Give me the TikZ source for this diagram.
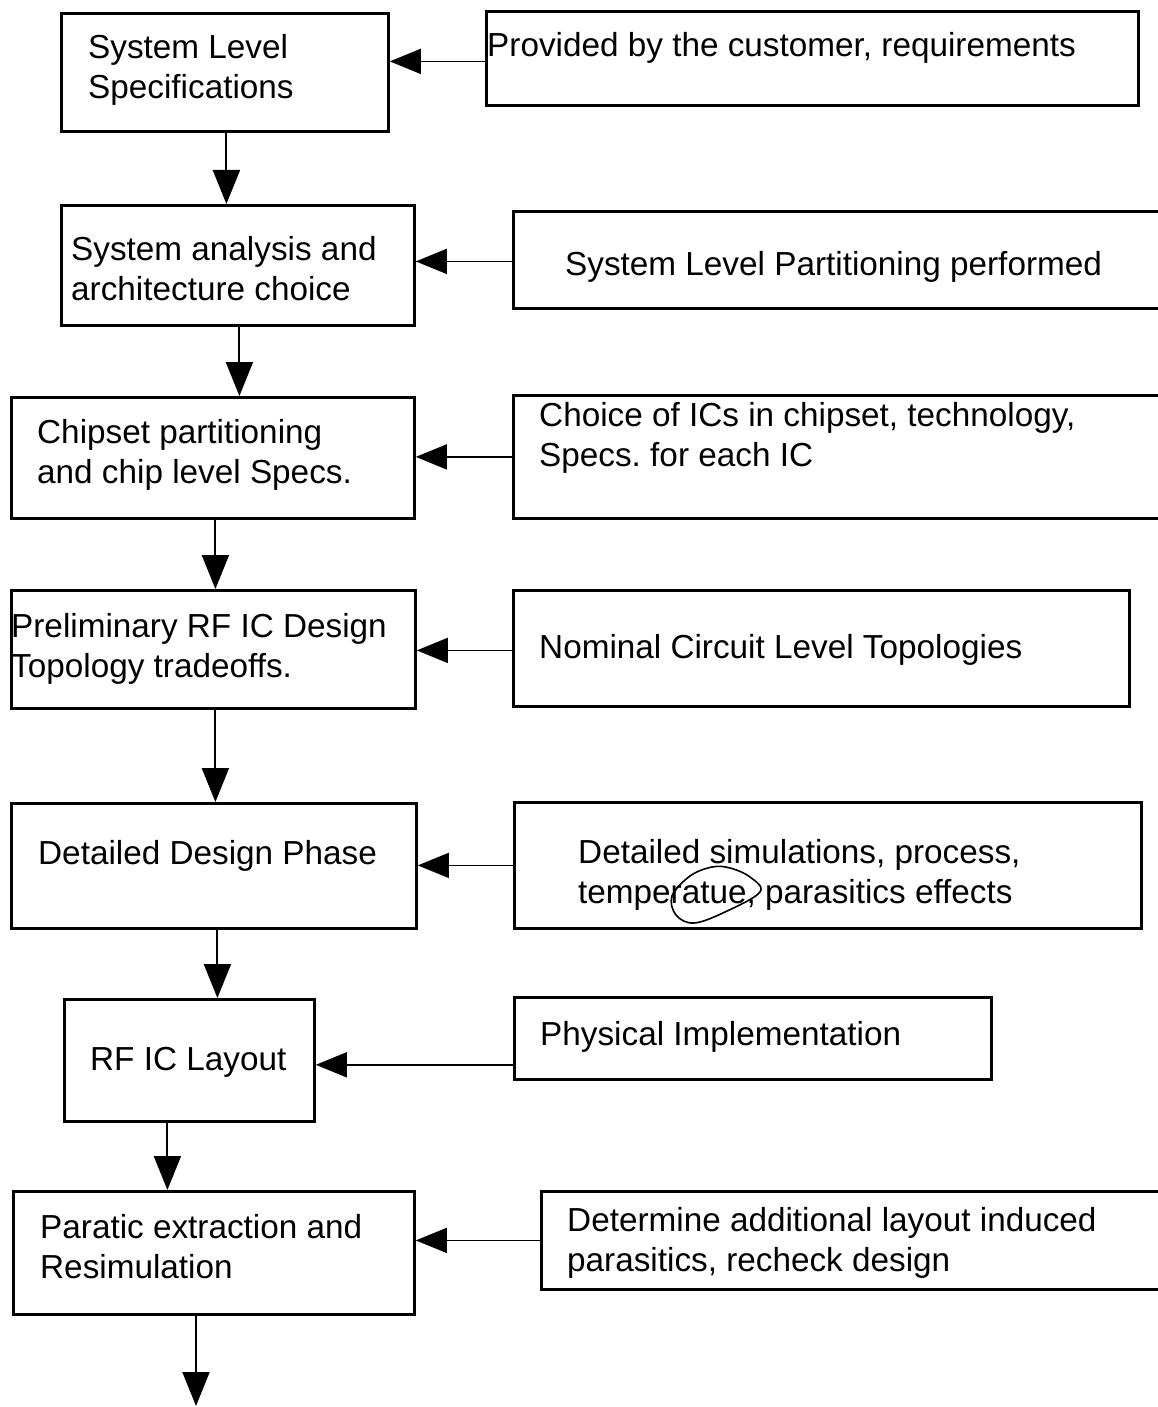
\documentclass[tikz,border=0pt]{standalone}
\usepackage{fontspec}
\setmainfont{Liberation Sans}
\usetikzlibrary{arrows.meta}
\frenchspacing
\begin{document}
\begin{tikzpicture}[x=1pt,y=-1pt,
  box/.style={draw, line width=2.8pt, rectangle, inner sep=0pt, anchor=north west},
  txt/.style={anchor=base west, inner sep=0pt, font=\fontsize{33.3}{40}\selectfont\frenchspacing},
  flow/.style={line width=2pt, -{Triangle[length=34pt,width=27pt]}},
  feed/.style={line width=1.6pt, -{Triangle[length=31pt,width=25pt]}}]
\useasboundingbox (0,0) rectangle (1158,1407);
\clip (0,0) rectangle (1158,1407);

% left column boxes
\node[box, minimum width=327pt, minimum height=118pt] (l1) at (60,12) {};
\node[box, minimum width=353pt, minimum height=120pt] (l2) at (60,204) {};
\node[box, minimum width=403pt, minimum height=121pt] (l3) at (10,396) {};
\node[box, minimum width=404pt, minimum height=118pt] (l4) at (10,589) {};
\node[box, minimum width=405pt, minimum height=125pt] (l5) at (10,802) {};
\node[box, minimum width=250pt, minimum height=122pt] (l6) at (63,998) {};
\node[box, minimum width=401pt, minimum height=123pt] (l7) at (12,1190) {};

% right column boxes
\node[box, minimum width=652pt, minimum height=94pt] (r1) at (485,10) {};
\node[box, minimum width=670pt, minimum height=97pt] (r2) at (512,210) {};
\node[box, minimum width=670pt, minimum height=123pt] (r3) at (512,394) {};
\node[box, minimum width=616pt, minimum height=116pt] (r4) at (512,589) {};
\node[box, minimum width=627pt, minimum height=126pt] (r5) at (513,801) {};
\node[box, minimum width=477pt, minimum height=82pt] (r6) at (513,996) {};
\node[box, minimum width=640pt, minimum height=98pt] (r7) at (540,1190) {};

% texts
\node[txt] (t1) at (88,59) {\begin{tabular}[t]{@{}l@{}}System Level\\Specifications\end{tabular}};
\node[txt] (t2) at (71,260) {\begin{tabular}[t]{@{}l@{}}System analysis and\\architecture choice\end{tabular}};
\node[txt] (t3) at (37,443) {\begin{tabular}[t]{@{}l@{}}Chipset partitioning\\and chip level Specs.\end{tabular}};
\node[txt] (t4) at (11,637) {\begin{tabular}[t]{@{}l@{}}Preliminary RF IC Design\\Topology tradeoffs.\end{tabular}};
\node[txt] (t5) at (38,864) {Detailed Design Phase};
\node[txt] (t6) at (90,1070) {RF IC Layout};
\node[txt] (t7) at (40,1238) {\begin{tabular}[t]{@{}l@{}}Paratic extraction and\\Resimulation\end{tabular}};

\node[txt] (s1) at (487,57) {Provided by the customer, requirements};
\node[txt] (s2) at (565,275) {System Level Partitioning performed};
\node[txt] (s3) at (539,426) {\begin{tabular}[t]{@{}l@{}}Choice of ICs in chipset, technology,\\Specs. for each IC\end{tabular}};
\node[txt] (s4) at (539,658) {Nominal Circuit Level Topologies};
\node[txt] (s5) at (578,863) {\begin{tabular}[t]{@{}l@{}}Detailed simulations, process,\\temperatue, parasitics effects\end{tabular}};
\node[txt] (s6) at (540,1045) {Physical Implementation};
\node[txt] (s7) at (567,1231) {\begin{tabular}[t]{@{}l@{}}Determine additional layout induced\\parasitics, recheck design\end{tabular}};

% handwritten loop around "atue,"
\draw[line width=1.6pt] plot[smooth cycle, tension=0.6] coordinates {(712,867) (690,876) (672,896) (676,915) (694,923) (725,912) (760,892) (750,877) (730,868)};

% vertical flow arrows
\draw[flow] ([xshift=1.5pt]l1.south) -- ([xshift=1.5pt]l1.south |- l2.north);
\draw[flow] ([xshift=1.5pt]l2.south) -- ([xshift=1.5pt]l2.south |- l3.north);
\draw[flow] ([xshift=2.5pt]l3.south) -- ([xshift=2.5pt]l3.south |- l4.north);
\draw[flow] ([xshift=2pt]l4.south) -- ([xshift=2pt]l4.south |- l5.north);
\draw[flow] ([xshift=3.5pt]l5.south) -- ([xshift=3.5pt]l5.south |- l6.north);
\draw[flow] ([xshift=-22pt]l6.south) -- ([xshift=-22pt]l6.south |- l7.north);
\coordinate (end) at (196,1406);
\draw[flow] (l7.south -| end) -- (end);

% feed arrows from the right column
\draw[feed] ([yshift=-3pt]r1.west) -- ([yshift=-3pt]r1.west -| l1.east);
\draw[feed] ([yshift=-1.5pt]r2.west) -- ([yshift=-1.5pt]r2.west -| l2.east);
\draw[feed] (r3.west) -- (r3.west -| l3.east);
\draw[feed] ([yshift=-2pt]r4.west) -- ([yshift=-2pt]r4.west -| l4.east);
\draw[feed] (r5.west) -- (r5.west -| l5.east);
\draw[feed] ([yshift=16pt]r6.south west) -- ([yshift=16pt]r6.south west -| l6.east);
\draw[feed] (r7.west) -- (r7.west -| l7.east);
\end{tikzpicture}
\end{document}
